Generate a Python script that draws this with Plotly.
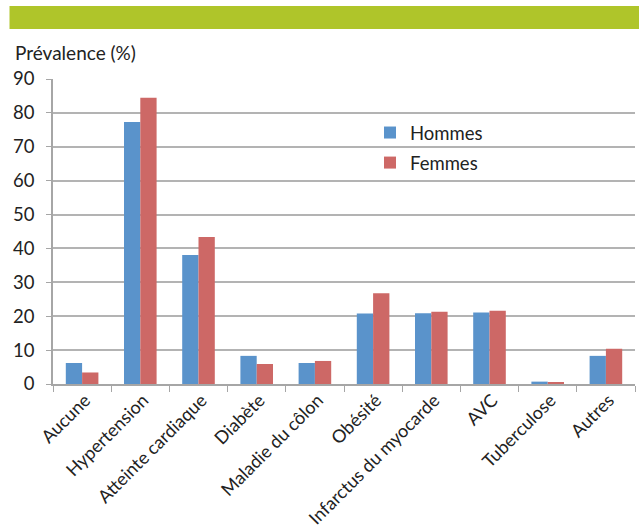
import plotly.graph_objects as go

categories = ["Aucune", "Hypertension", "Atteinte cardiaque", "Diabète", "Maladie du côlon",
              "Obésité", "Infarctus du myocarde", "AVC", "Tuberculose", "Autres"]
hommes = [6.2, 77.3, 38.1, 8.3, 6.2, 20.8, 20.9, 21.1, 0.7, 8.3]
femmes = [3.4, 84.5, 43.4, 5.9, 6.8, 26.8, 21.3, 21.6, 0.3, 10.4]
y_ticks = [0, 10, 20, 30, 40, 50, 60, 70, 80, 90]

FONT = "Lato"
TXT = "#222222"
W, H = 639, 531
ML, MR, MT, MB = 53, 4, 79, 147
pw = W - ML - MR
ph = H - MT - MB

def px2x(p):
    return (p - ML) / pw

def px2y(p):
    return 1 - (p - MT) / ph

fig = go.Figure()
fig.add_trace(go.Bar(x=categories, y=hommes, name="Hommes", legendgroup="h",
                     marker=dict(color="#5a93cb", line=dict(width=0))))
fig.add_trace(go.Bar(x=categories, y=femmes, name="Femmes", legendgroup="f",
                     marker=dict(color="#cd6866", line=dict(width=0))))

fig.update_layout(
    width=W, height=H,
    margin=dict(l=ML, r=MR, t=MT, b=MB, pad=0, autoexpand=False),
    paper_bgcolor="white", plot_bgcolor="white",
    barmode="group", bargap=0.44, bargroupgap=0,
    font=dict(family=FONT, size=18, color=TXT),
    showlegend=True,
    legend=dict(x=px2x(370), y=px2y(114), xanchor="left", yanchor="top",
                bgcolor="rgba(0,0,0,0)", font=dict(size=18.5, family=FONT, color=TXT),
                tracegroupgap=3, itemwidth=30),
    xaxis=dict(type="category", tickangle=-45, tickson="boundaries", ticks="outside",
               ticklen=6, tickcolor="#a6a6a6", showline=True, linecolor="#a6a6a6", linewidth=1.5,
               showgrid=False, automargin=False, ticklabelstandoff=-3, ticklabelshift=3,
               tickfont=dict(size=18, family=FONT, color=TXT)),
    yaxis=dict(range=[0, 90], tickvals=y_ticks, ticks="outside", ticklen=5, tickcolor="#a6a6a6",
               showline=True, linecolor="#a6a6a6", linewidth=1.5, showgrid=True,
               gridcolor="#b3b3b3", gridwidth=1.5, zeroline=False, ticklabelstandoff=8,
               automargin=False, tickfont=dict(size=18.5, family=FONT, color=TXT)),
)

fig.add_shape(type="rect", xref="paper", yref="paper",
              x0=px2x(9.5), x1=px2x(640), y0=px2y(29), y1=px2y(6),
              fillcolor="#afc52a", line=dict(width=0), layer="above")

fig.add_annotation(text="Prévalence (%)", xref="paper", yref="paper",
                   x=px2x(13), y=px2y(52), xanchor="left", yanchor="middle",
                   showarrow=False, font=dict(size=19, family=FONT, color=TXT))

fig.write_html("out.html")
